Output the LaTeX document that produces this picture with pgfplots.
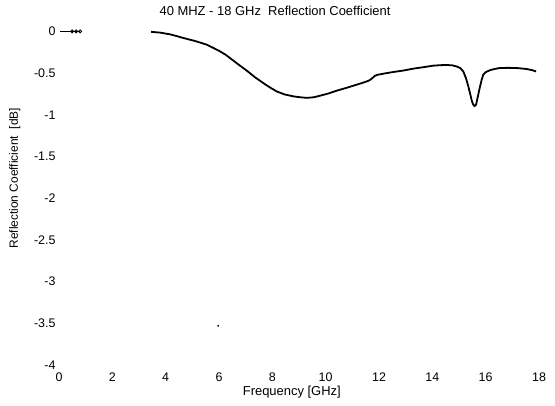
\documentclass[border=0pt]{standalone}
\usepackage{fontspec}
\setmainfont{Liberation Sans}
\usepackage{pgfplots}
\pgfplotsset{compat=1.18}
\begin{document}
\begin{tikzpicture}
\begin{axis}[
  name=ax,
  scale only axis,
  width=480bp, height=333.6bp,
  xmin=0, xmax=18, ymin=-4, ymax=0,
  xtick={0,2,...,18},
  ytick={-4,-3.5,...,0},
  yticklabels={-4,-3.5,-3,-2.5,-2,-1.5,-1,-0.5,0},
  axis line style={draw=none},
  major tick length=0pt,
  tick style={draw=none},
  /pgf/number format/assume math mode=true,
  tick label style={font=\fontsize{12.5}{14}\selectfont},
  xticklabel style={yshift=-4bp},
  clip=false,
  title={40 MHZ - 18 GHz\ \ Reflection Coefficient},
  title style={font=\fontsize{13}{15}\selectfont, at={(axis description cs:0.45,1.044)}, anchor=center},
  xlabel={Frequency [GHz]},
  xlabel style={font=\fontsize{13}{15}\selectfont, at={(axis description cs:0.485,-0.081)}, anchor=center},
  ylabel={Reflection Coefficient\ \ [dB]},
  ylabel style={font=\fontsize{12}{14}\selectfont, at={(axis description cs:-0.092,0.56)}, anchor=center},
]
\addplot[black, line width=1.8bp] coordinates {
(3.45,-0.005)(3.8,-0.015)(4.16,-0.035)(4.4,-0.055)(4.66,-0.079)(5.1,-0.115)(5.54,-0.159)
(5.8,-0.2)(6.04,-0.240)(6.25,-0.28)(6.41,-0.319)(6.7,-0.39)(7.04,-0.470)(7.35,-0.55)
(7.66,-0.619)(7.9,-0.67)(8.16,-0.719)(8.45,-0.755)(8.79,-0.779)(9.05,-0.79)(9.29,-0.797)
(9.55,-0.79)(9.79,-0.771)(10.1,-0.745)(10.41,-0.711)(10.8,-0.675)(11.16,-0.639)(11.4,-0.615)
(11.54,-0.600)(11.65,-0.585)(11.75,-0.56)(11.85,-0.532)(11.95,-0.52)(12.2,-0.505)(12.53,-0.487)
(12.9,-0.47)(13.28,-0.447)(13.65,-0.43)(14.03,-0.411)(14.3,-0.405)(14.54,-0.403)(14.75,-0.407)
(14.91,-0.420)(15.05,-0.44)(15.16,-0.480)(15.26,-0.56)(15.35,-0.659)(15.42,-0.75)(15.47,-0.819)
(15.52,-0.87)(15.58,-0.895)(15.64,-0.879)(15.7,-0.79)(15.79,-0.659)(15.85,-0.58)(15.91,-0.519)
(16.0,-0.49)(16.16,-0.465)(16.35,-0.45)(16.53,-0.439)(16.85,-0.437)(17.16,-0.439)(17.35,-0.445)
(17.54,-0.451)(17.75,-0.465)(17.89,-0.480)
};
\addplot[black, line width=1bp] coordinates {(0.04,0)(0.79,0)};
\addplot[black, only marks, mark=o, mark size=1.6bp, mark options={fill=white, line width=0.8bp}] coordinates {(0.49,0)(0.64,0)(0.79,0)};
\addplot[black, only marks, mark=*, mark size=0.7bp] coordinates {(5.97,-3.53)};
\end{axis}
\path[use as bounding box] (ax.south west) ++(-59bp,-41bp) rectangle ++(555bp,406bp);
\end{tikzpicture}
\end{document}
